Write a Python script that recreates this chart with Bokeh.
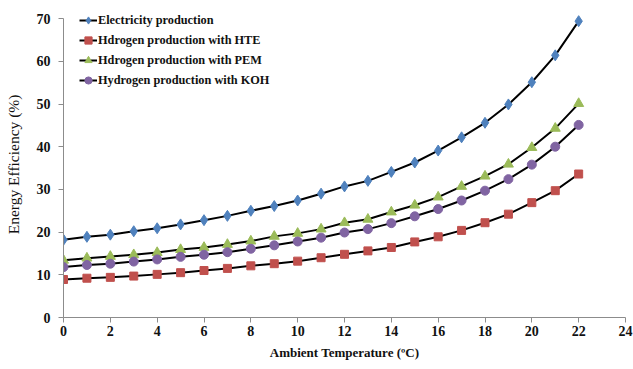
from bokeh.plotting import figure
from bokeh.models import Range1d, FixedTicker, Legend
from bokeh.embed import file_html
from bokeh.resources import INLINE

temperature = list(range(0, 23))
electricity = [18.2, 18.9, 19.4, 20.2, 20.9, 21.8, 22.8, 23.8, 25.0, 26.1, 27.4, 29.0,
               30.7, 32.0, 34.1, 36.3, 39.1, 42.2, 45.6, 49.9, 55.1, 61.4, 69.4]
hte = [8.9, 9.2, 9.4, 9.7, 10.1, 10.5, 11.0, 11.5, 12.1, 12.6, 13.2, 14.0,
       14.8, 15.6, 16.4, 17.7, 18.9, 20.4, 22.2, 24.2, 26.9, 29.7, 33.6]
pem = [13.4, 13.9, 14.3, 14.7, 15.2, 15.9, 16.4, 17.1, 17.9, 19.0, 19.7, 20.7,
       22.2, 23.0, 24.7, 26.3, 28.2, 30.7, 33.1, 35.9, 39.8, 44.3, 50.1]
koh = [11.8, 12.3, 12.6, 13.1, 13.6, 14.2, 14.7, 15.3, 16.1, 16.9, 17.8, 18.7,
       19.9, 20.7, 22.1, 23.7, 25.4, 27.4, 29.7, 32.4, 35.8, 40.0, 45.1]
series_names = ["Electricity production", "Hdrogen production with HTE",
                "Hdrogen production with PEM", "Hydrogen production with KOH"]
x_ticks = list(range(0, 25, 2))
y_ticks = list(range(0, 71, 10))

serif = "Liberation Serif"
axis_gray = "#8c8c8c"

p = figure(width=633, height=365, output_backend="svg", toolbar_location=None,
           x_range=Range1d(0, 24), y_range=Range1d(0, 72.6),
           min_border_left=63, min_border_right=8, min_border_top=7, min_border_bottom=48)
p.outline_line_color = None
p.xgrid.grid_line_color = None
p.ygrid.grid_line_color = None

styles = [
    (electricity, "diamond", "#4F81BD", 11),
    (hte, "square", "#C0504D", 8),
    (pem, "triangle", "#9BBB59", 10),
    (koh, "circle", "#8064A2", 9),
]
items = []
for (vals, marker, color, size), name in zip(styles, series_names):
    r1 = p.line(temperature, vals, line_color="black", line_width=2)
    r2 = p.scatter(temperature, vals, marker=marker, size=size, fill_color=color,
                   line_color=color)
    items.append((name, [r1, r2]))

legend = Legend(items=items, location=(16, 228), padding=0, margin=0, spacing=2,
                glyph_width=18, glyph_height=18, label_height=18, label_standoff=1,
                border_line_color=None, background_fill_alpha=0,
                label_text_font=serif, label_text_font_style="bold",
                label_text_font_size="12.3px", label_text_color="#111111")
p.add_layout(legend, "center")

for ax in (p.xaxis[0], p.yaxis[0]):
    ax.axis_line_color = axis_gray
    ax.major_tick_line_color = axis_gray
    ax.minor_tick_line_color = None
    ax.major_tick_in = 0
    ax.major_tick_out = 5
    ax.major_label_text_font = serif
    ax.major_label_text_font_style = "bold"
    ax.major_label_text_font_size = "14px"
    ax.major_label_text_color = "#111111"
    ax.axis_label_text_font = serif
    ax.axis_label_text_color = "#111111"

p.yaxis.bounds = (0, 70)
p.xaxis.ticker = FixedTicker(ticks=x_ticks)
p.yaxis.ticker = FixedTicker(ticks=y_ticks)
p.xaxis.axis_label = "Ambient Temperature (ºC)"
p.xaxis.axis_label_text_font_style = "bold"
p.xaxis.axis_label_text_font_size = "13px"
p.xaxis.major_label_standoff = 3
p.xaxis.axis_label_standoff = 6
p.yaxis.axis_label = "Energy  Efficiency (%)"
p.yaxis.axis_label_text_font_style = "normal"
p.yaxis.axis_label_text_font_size = "15.5px"
p.yaxis.major_label_standoff = 8
p.yaxis.axis_label_standoff = 12

open("out.html", "w").write(file_html(p, INLINE))
